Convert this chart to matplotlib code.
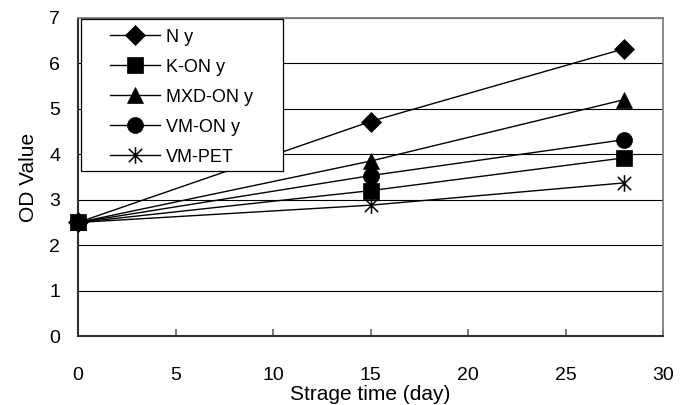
import matplotlib.pyplot as plt
from matplotlib.patches import Rectangle
from matplotlib.path import Path

plt.rcParams['font.family'] = ['Liberation Sans', 'DejaVu Sans']

# storage days and OD values
days = [0, 15, 28]
n_y = [2.5, 4.72, 6.32]
kon_y = [2.5, 3.2, 3.92]
mxd_y = [2.5, 3.85, 5.2]
vmon_y = [2.5, 3.53, 4.32]
vmpet = [2.5, 2.88, 3.37]

labels = ["N y", "K-ON y", "MXD-ON y", "VM-ON y", "VM-PET"]
series = [n_y, kon_y, mxd_y, vmon_y, vmpet]

# excel-like star: an X with a vertical stroke
star = Path([(-1, -1), (1, 1), (-1, 1), (1, -1), (0, -1.25), (0, 1.25)],
            [Path.MOVETO, Path.LINETO, Path.MOVETO, Path.LINETO, Path.MOVETO, Path.LINETO])

markers = ["D", "s", "^", "o", star]
sizes = [10, 11.5, 12, 11.5, 12]
zorders = [3, 6, 4, 3, 3]

fig = plt.figure(figsize=(6.85, 4.05), dpi=100)
ax = fig.add_axes([0.114, 0.170, 0.854, 0.786])

for vals, lab, mk, ms, z in zip(series, labels, markers, sizes, zorders):
    ax.plot(days, vals, color='black', lw=1, marker=mk, markersize=ms,
            markeredgewidth=1.1 if mk is star else 0.5,
            label=lab, clip_on=False, zorder=z)

ax.set_xlim(0, 30)
ax.set_ylim(0, 7)
ax.set_xticks(range(0, 31, 5))
ax.set_yticks(range(0, 8))
ax.yaxis.grid(True, color='black', lw=0.8)
ax.set_axisbelow(True)

ax.tick_params(axis='x', direction='in', length=5, width=1.3, color='#707070',
               pad=22, labelsize=14)
ax.tick_params(axis='y', length=0, pad=13, labelsize=14)

for s in ['top', 'right']:
    ax.spines[s].set_color('#808080')
    ax.spines[s].set_linewidth(1.3)
for s in ['left', 'bottom']:
    ax.spines[s].set_color('#303030')
    ax.spines[s].set_linewidth(1.5)

ax.set_xlabel("Strage time (day)", fontsize=15, labelpad=1)
ax.set_ylabel("OD Value", fontsize=15, labelpad=8)

# legend box drawn as a plain rectangle, entries placed inside it
ax.add_patch(Rectangle((0.005, 0.519), 0.345, 0.478, transform=ax.transAxes,
                       facecolor='white', edgecolor='black', lw=0.9,
                       zorder=8, clip_on=False))
leg = ax.legend(loc='upper left', bbox_to_anchor=(0.055, 0.966), fontsize=13,
                frameon=False, handlelength=2.78, handletextpad=0.33,
                borderpad=0, borderaxespad=0, labelspacing=0.72)
leg.set_zorder(9)

fig.savefig("out.png", dpi=100)
